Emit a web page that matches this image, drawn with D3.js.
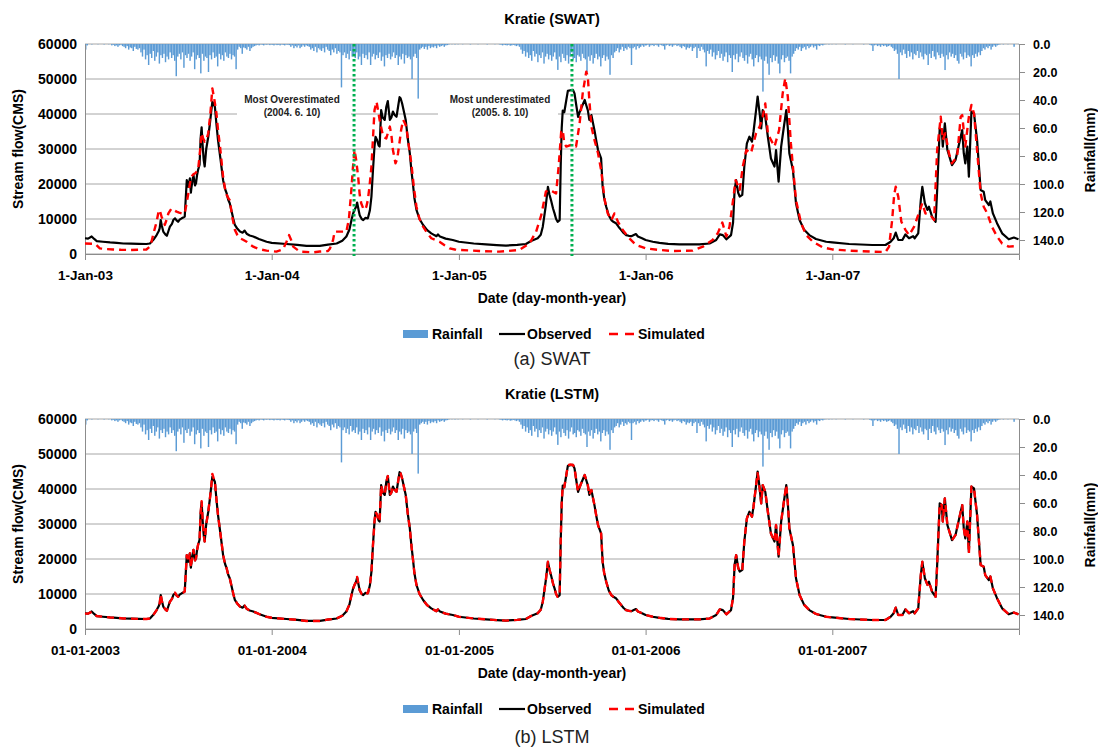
<!DOCTYPE html>
<html lang="en">
<head>
<meta charset="utf-8">
<title>Kratie stream flow: SWAT and LSTM</title>
<script src="https://d3js.org/d3.v7.min.js"></script>
<style>
  body { margin: 0; background: #fff; }
  svg text { font-family: "Liberation Sans", Arial, sans-serif; }
</style>
</head>
<body>
<script>
// all series use [day, value], day = days since 1 Jan 2003
var observed = [
  [0,4500],[6,4400],[13,5000],[18,4300],[23,3700],[35,3500],[49,3300],[62,3200],[75,3000],[90,2950],[105,2900],[120,2850],
  [127,3000],[130,3500],[135,4300],[140,5400],[144,6500],[146,7300],[148,9700],[150,8200],[153,6400],[157,5600],[160,5200],
  [163,6500],[166,7800],[170,8600],[173,9800],[176,10200],[179,9600],[182,9200],[185,9800],[189,10200],[192,10400],[195,10700],
  [197,16000],[199,21100],[202,19200],[205,21600],[207,17500],[208,18800],[210,21000],[212,22600],[215,19600],[217,20200],
  [219,22500],[221,24000],[224,25500],[226,33000],[228,36200],[230,31000],[232,27000],[234,25000],[237,30000],[241,33500],
  [244,37000],[247,41000],[249,43500],[251,43000],[254,42000],[257,37000],[260,32600],[265,27000],[270,21100],[274,18500],
  [277,17300],[280,15500],[283,14500],[286,12600],[290,10000],[293,8300],[298,7200],[303,6400],[308,6100],[312,6700],
  [316,5800],[322,5300],[329,5000],[340,4300],[355,3500],
  [365,3200],[394,2850],[415,2600],[433,2300],[459,2300],[475,2700],[492,3000],[503,3800],[511,5000],[517,7000],[521,9700],
  [524,11500],[527,12600],[530,13500],[532,14700],[535,12500],[537,11100],[541,10000],[544,9700],[548,10300],[553,10200],
  [557,12500],[560,16400],[563,24000],[566,30700],[568,33500],[571,32600],[574,31000],[576,30700],[579,41100],[582,39000],
  [586,38300],[589,42000],[592,43700],[594,41000],[596,38300],[599,39000],[602,40700],[605,39800],[609,39200],[612,42000],
  [615,44800],[617,44500],[620,43000],[623,41000],[627,38300],[631,33000],[635,28800],[638,24000],[641,20200],[644,16000],
  [648,12600],[654,10000],[661,8300],[669,6800],[677,5900],[683,5400],[687,5100],[690,5600],[694,5000],[705,4400],[719,4000],
  [731,3500],[760,3000],[784,2760],[805,2550],[823,2400],[845,2600],[862,2850],[872,3700],[885,4500],[891,5500],[895,7800],
  [901,14000],[905,19200],[908,17000],[911,15400],[915,13000],[918,11600],[921,10000],[924,9200],[928,9700],[930,25000],
  [932,36000],[934,41000],[937,40500],[941,44000],[944,46600],[949,46800],[954,46900],[957,45900],[961,42000],[964,39200],
  [967,40500],[970,41600],[974,43000],[977,44000],[980,42500],[983,41100],[986,38300],[990,39700],[993,37500],[996,35400],
  [1000,32000],[1003,29700],[1006,28500],[1009,27300],[1012,19200],[1015,16000],[1019,13500],[1024,11000],[1029,9700],
  [1033,9200],[1038,8800],[1043,7800],[1048,6900],[1053,6000],[1058,5400],[1063,5200],[1068,5100],[1074,5500],[1077,5700],
  [1081,5000],[1089,4500],
  [1096,4000],[1110,3500],[1123,3200],[1140,2900],[1162,2760],[1180,2750],[1201,2760],[1221,3000],[1234,4000],[1241,5600],
  [1247,5400],[1254,4200],[1263,5400],[1267,9000],[1270,18300],[1273,21100],[1277,17500],[1280,16400],[1285,16900],
  [1289,25000],[1294,31600],[1299,33500],[1304,32100],[1307,35000],[1312,41100],[1315,45000],[1319,40200],[1322,35900],
  [1325,41100],[1330,39200],[1335,33500],[1341,27300],[1348,25000],[1351,29700],[1356,20700],[1361,30700],[1366,36000],
  [1371,41100],[1374,36000],[1377,28800],[1384,24000],[1390,14500],[1397,9700],[1406,6900],[1416,5400],[1429,4300],[1449,3500],
  [1461,3300],[1494,2850],[1539,2570],[1565,2570],[1575,3500],[1581,4500],[1585,6100],[1590,4000],[1598,4000],[1604,5600],
  [1611,4500],[1619,5100],[1622,4500],[1629,5900],[1634,15400],[1637,19200],[1642,14500],[1647,12600],[1650,13500],
  [1656,10700],[1663,9200],[1666,18300],[1671,35900],[1675,35400],[1677,30700],[1681,37300],[1686,29700],[1695,25400],
  [1702,26900],[1712,33500],[1715,35400],[1718,28800],[1721,25900],[1725,30700],[1728,22100],[1733,40700],[1738,40200],
  [1744,32600],[1751,18300],[1757,17800],[1760,15400],[1767,14000],[1770,15000],[1775,11600],[1783,8800],[1793,5900],
  [1806,4200],[1816,4700],[1825,4200]
];

var swatSimulated = [
  [0,3000],[20,2900],[29,1600],[40,1400],[55,1300],[70,1200],[88,1150],[105,1200],[120,1300],[126,2000],[130,3500],
  [135,6500],[140,9200],[143,11500],[146,12600],[150,10500],[153,9700],[156,8300],[160,10000],[163,11600],[169,13000],
  [174,12500],[179,12100],[184,11800],[189,11600],[195,11600],[198,14000],[202,17300],[205,20000],[208,22100],[212,22800],
  [215,23000],[218,23500],[221,24000],[224,28000],[228,34500],[231,33000],[234,32100],[238,33000],[241,34500],[245,40000],
  [249,47300],[253,44000],[257,40200],[260,35500],[264,30700],[270,22000],[274,18500],[277,16900],[280,16000],[283,15400],
  [288,10500],[293,6900],[298,5400],[303,4500],[310,4000],[316,3500],[322,2800],[329,2100],[340,1400],[355,950],
  [365,800],[374,670],[387,1300],[394,3500],[399,5400],[403,4000],[407,2100],[420,670],[446,480],[459,700],[475,860],
  [479,1600],[485,4000],[488,6400],[498,6400],[511,6400],[516,10000],[521,18800],[524,25000],[527,29700],[530,27000],
  [534,22100],[537,17000],[540,14500],[544,13000],[547,12600],[550,13500],[553,15400],[556,19000],[560,25000],[563,33000],
  [566,41100],[570,43500],[573,41000],[576,38300],[580,35500],[583,33500],[589,33000],[592,34500],[596,36400],[599,34000],
  [602,29700],[605,27500],[607,25900],[610,27000],[612,28800],[615,32000],[618,35400],[622,38300],[625,37500],[628,36400],
  [633,31000],[638,25900],[643,19000],[648,13500],[654,10000],[661,7800],[669,6000],[677,4500],[685,4000],[693,3500],
  [703,2500],[713,1600],[723,1300],
  [732,1150],[771,860],[810,670],[849,1150],[869,3000],[882,6400],[892,11100],[901,17800],[908,18300],[915,17800],
  [921,17300],[926,25000],[931,35000],[934,35400],[937,31600],[941,30700],[951,31200],[960,30700],[967,37300],[973,45900],
  [980,52100],[983,50700],[986,44000],[990,36400],[996,32600],[1003,28800],[1009,24000],[1016,15400],[1022,11600],
  [1029,9700],[1035,11600],[1042,9200],[1051,6900],[1064,4500],[1077,2600],
  [1096,1600],[1123,1150],[1149,860],[1188,950],[1208,2100],[1227,4000],[1237,5900],[1246,9000],[1254,5000],[1260,7800],
  [1267,15400],[1272,21100],[1280,18300],[1286,25000],[1293,29700],[1302,28800],[1312,34500],[1319,36400],[1325,39200],
  [1330,43000],[1335,34500],[1341,32600],[1348,30700],[1357,35400],[1364,45900],[1369,50200],[1374,45000],[1380,31600],
  [1384,25000],[1390,15400],[1400,8800],[1410,5400],[1423,3500],[1442,1900],
  [1461,1300],[1494,950],[1539,670],[1565,570],[1572,2100],[1578,9700],[1582,17000],[1585,19200],[1590,16400],[1596,9200],
  [1604,6900],[1611,5400],[1621,7800],[1630,11600],[1637,14500],[1643,11600],[1653,11100],[1660,9700],[1666,29700],
  [1673,39200],[1677,32600],[1682,34500],[1689,28800],[1695,25900],[1705,27800],[1712,39200],[1715,39700],[1721,30700],
  [1728,39200],[1733,42600],[1738,40200],[1744,29700],[1751,17300],[1757,13500],[1764,11600],[1773,7800],[1783,5000],
  [1793,3000],[1806,2100],[1825,2300]
];

// LSTM output sits almost exactly on the observed curve
var lstmSimulated = [
  [0,4400],[6,4400],[13,4900],[18,4300],[23,3700],[35,3500],[49,3300],[62,3200],[75,3000],[90,2950],[105,2900],[120,2850],
  [127,3000],[130,3500],[135,4300],[140,5400],[144,6500],[146,7300],[148,9900],[150,8200],[153,6400],[157,5600],[160,5200],
  [163,6500],[166,7800],[170,8600],[173,9800],[176,10400],[179,9600],[182,9200],[185,9800],[189,10200],[192,10400],[195,10700],
  [197,16000],[199,21100],[202,19200],[205,21600],[207,17500],[208,18800],[210,21000],[212,22600],[215,19600],[217,20200],
  [219,22500],[221,24000],[224,25500],[226,33000],[228,36500],[230,31000],[232,27000],[234,25000],[237,30000],[241,33500],
  [244,37000],[247,41000],[249,44300],[251,43300],[254,42000],[257,37000],[260,32600],[265,27000],[270,21100],[274,18500],
  [277,17300],[280,15500],[283,14500],[286,12600],[290,10000],[293,8300],[298,7200],[303,6400],[308,6100],[312,6700],
  [316,5800],[322,5300],[329,5000],[340,4300],[355,3500],
  [365,3200],[394,2850],[415,2600],[433,2300],[459,2300],[475,2700],[492,3000],[503,3800],[511,5000],[517,7000],[521,9700],
  [524,11500],[527,12600],[530,13500],[532,14900],[535,12500],[537,11100],[541,10000],[544,9700],[548,10300],[553,10200],
  [557,12500],[560,16400],[563,24000],[566,30700],[568,33500],[571,32600],[574,31000],[576,30700],[579,41100],[582,39000],
  [586,38300],[589,42000],[592,43700],[594,41000],[596,38300],[599,39000],[602,40700],[605,39800],[609,39200],[612,42000],
  [615,44800],[617,44500],[620,43000],[623,41000],[627,38300],[631,33000],[635,28800],[638,24000],[641,20200],[644,16000],
  [648,12600],[654,10000],[661,8300],[669,6800],[677,5900],[683,5400],[687,5100],[690,5600],[694,5000],[705,4400],[719,4000],
  [731,3500],[760,3000],[784,2760],[805,2550],[823,2400],[845,2600],[862,2850],[872,3700],[885,4500],[891,5500],[895,7800],
  [901,14000],[905,19200],[908,17000],[911,15400],[915,13000],[918,11600],[921,10000],[924,9200],[928,9700],[930,25000],
  [932,36000],[934,41000],[937,40500],[941,44000],[944,46800],[949,47000],[954,46900],[957,45900],[961,42000],[964,39200],
  [967,40500],[970,41600],[974,43000],[977,44000],[980,42500],[983,41100],[986,38300],[990,39700],[993,37500],[996,35400],
  [1000,32000],[1003,29700],[1006,28500],[1009,27300],[1012,19200],[1015,16000],[1019,13500],[1024,11000],[1029,9700],
  [1033,9200],[1038,8800],[1043,7800],[1048,6900],[1053,6000],[1058,5400],[1063,5200],[1068,5100],[1074,5500],[1077,5700],
  [1081,5000],[1089,4500],
  [1096,4000],[1110,3500],[1123,3200],[1140,2900],[1162,2760],[1180,2750],[1201,2760],[1221,3000],[1234,4000],[1241,5600],
  [1247,5400],[1254,4200],[1263,5400],[1267,9000],[1270,18300],[1273,21100],[1277,17500],[1280,16400],[1285,16900],
  [1289,25000],[1294,31600],[1299,33500],[1304,32100],[1307,35000],[1312,41100],[1315,44500],[1319,40200],[1322,35900],
  [1325,41100],[1330,39200],[1335,33500],[1341,27300],[1348,25000],[1351,29700],[1356,20700],[1361,30700],[1366,36000],
  [1371,41100],[1374,36000],[1377,28800],[1384,24000],[1390,14500],[1397,9700],[1406,6900],[1416,5400],[1429,4300],[1449,3500],
  [1461,3300],[1494,2850],[1539,2570],[1565,2570],[1575,3500],[1581,4500],[1585,6100],[1590,4000],[1598,4000],[1604,5600],
  [1611,4500],[1619,5100],[1622,4500],[1629,5900],[1634,15400],[1637,19200],[1642,14500],[1647,12600],[1650,13500],
  [1656,10700],[1663,9200],[1666,18300],[1671,35900],[1675,35400],[1677,30700],[1681,37300],[1686,29700],[1695,25400],
  [1702,26900],[1712,33500],[1715,35400],[1718,28800],[1721,25900],[1725,30700],[1728,21500],[1733,40700],[1738,40200],
  [1744,32600],[1751,18300],[1757,17800],[1760,15400],[1767,14000],[1770,15000],[1775,11600],[1783,8800],[1793,5900],
  [1806,4200],[1816,4700],[1825,4200]
];

// daily rainfall read in 3-day steps (mm), 122 steps per year
var rain2003 = [4,1, 0,0,0.3,0,0,0,0.2,0,0,0,0.3,0,0,0.2,0, 1,0.5,1.5,1,2,1,0.5,1.5,
  2,3,1.5,4,2.5,3,5,2,3.5,4,3, 6,9,4,11,8,15,7,10,5,12,9,6,14,8,10,7,13,9,11,6,10,8,12, 23,
  9,7,11,6,17,8,10,7,12,9,6,18,11,8,10,21,7,12,9,10,20,8,11,6,10,9,16,7,11,8,12,6,9,10,7,11,8,9,18,
  4,2,3,7,2.5,3,4,2,5,3,2,1.5, 1,0.5,1,0.3,0.5,1,0.3,0.5,0.2,0.8,0.3];
var rain2004 = [0.5,1,0.3,0.8,0.5,1,0.3,0.6,1,0.4,0.5,0.8, 2,1,3,1.5,2.5,1,3,2,1,2, 1,1.5,
  2,4,3,5,2,6,3,4,5,3,6,2,4,5, 8, 4,6,3,7,5,6, 31, 8,6,10,7,11,5,9,8,10,6,11,9, 15, 7,10,8,11,6, 15,
  9,7,11,8,10,6,12,9, 16, 8,10,7,11,9,6,10,8, 15, 9,11,7, 14, 8,10,9,11, 25, 9,7,10, 39,
  4,3,2,3.5,2,4,1.5,3,2,2.5,1.5,3,1,2,1.5,1,2,1,0.8, 0.3,0,0.2,0,0.3,0,0.2];
var rain2005 = [0,0,0.2,0,0,0,0,0.3,0,0,0,0,0.2,0,0,0,0,0,0.3,0,0,0,0,0.2,0,0,0.3,
  0.5,1,0.5,0.8,1,0.5,1.2,1,0.6,1,1.5,1,2, 4,7,5,9,6,10,8,12,5,9,7,13,8,10,6,14,9,7,11,
  8,12,9,6,11, 18.5, 9,13,7,10,12,8,14,9,6,11,10,13,8,9,12,7,10,11, 20, 9,12,8,14,10,7,11,9, 16,
  10,8,12,9,11, 22, 8,10,6,5,3,6,4,2,5,3,4,2,3, 15, 3,2,4,1.5,3,2,1,2,1];
var rain2006 = [1,0.5,2,1,0.8,1.5,0.5,1,2,0.5,1,1.5, 4, 1,0.5,1.5,1,2,1,0.5,1.5,1,2,3,1.5,2,4,2.5,3,2,5,3,2,
  10, 3,5,2,4,6, 16, 5,7,4,9,6,11,8,5,10,7,12,9,6,13,8,10, 20, 8,11,7,13,9,6,10,12,8,14,9,7,11, 16,
  10,8,13,9,11, 34, 12,9,14, 22, 10,13,8,12,9,14, 21, 11,8,13,10,9,12, 21,
  9,7,5,3,4,2,5,3,2,4,1.5,3,2,1,2.5,1.5, 4, 1,1.5,0.5,1,0.3,0.2,0,0.3,0,0.2];
var rain2007 = [0,0,0.2,0,0,0,0,0,0.3,0,0,0,0,0.2,0,0,0,0,0,0,0.3,0,0,0, 0.5,1, 5,
  1,0.5,1.5,1,2,0.8,1.5,1,2,1.5,1,2, 3,5,4,7, 25, 6,8,4,7,10,5,9,6,11,7,8,5,10,6,9,11,7,8, 15,
  7,10,5,9,11,6,8,10,7,9, 18.6, 8,11,6,9,7,10,8,12, 14, 7,9,11,6,10,8,9, 16, 8,10,7,9,6,8,5,
  3,4,2,3,1.5,4,2,1,2,1, 0.5,0.2,0,0.3,0,0,0.2,0,0,0,2,0,0,0.2];

var rainYears = [2003, 2004, 2005, 2006, 2007];
var flowTicks = [0, 10000, 20000, 30000, 40000, 50000, 60000];
var rainTicks = [0, 20, 40, 60, 80, 100, 120, 140];
var markedDates = ["2004-06-10", "2005-08-10"];

var W = 1098, H = 747;
var left = 85, right = 1019, plotH = 210;
var start = new Date(2003, 0, 1);
function toDate(d) { return d3.timeDay.offset(start, d); }

var rainSeries = [rain2003, rain2004, rain2005, rain2006, rain2007].flatMap(function(arr, k) {
  var y0 = new Date(rainYears[k], 0, 1);
  return arr.map(function(v, i) { return { date: d3.timeDay.offset(y0, 3 * i), v: v }; });
});

var svg = d3.select("body").append("svg").attr("width", W).attr("height", H);

var x = d3.scaleTime().domain([start, new Date(2008, 0, 1)]).range([left, right]);
var yearTickDates = rainYears.map(function(y) { return new Date(y, 0, 1); });

function drawPanel(o) {
  var top = o.top, bottom = top + plotH;
  var y = d3.scaleLinear().domain([0, 60000]).range([bottom, top]);
  var yr = d3.scaleLinear().domain([0, 150]).range([top, bottom]);
  var g = svg.append("g");

  g.append("text").attr("x", 552).attr("y", top - 20).attr("text-anchor", "middle")
    .attr("font-size", 14.5).attr("font-weight", "bold").text(o.title);

  // gridlines
  g.selectAll(".grid").data(flowTicks).join("line")
    .attr("x1", left).attr("x2", right)
    .attr("y1", function(d) { return y(d); }).attr("y2", function(d) { return y(d); })
    .attr("stroke", "#a6a6a6").attr("stroke-width", 1);

  // white boxes behind the notes break the gridline
  if (o.notes) {
    g.selectAll(".notebox").data(o.notes).join("rect")
      .attr("x", function(d) { return d.x0; }).attr("width", function(d) { return d.x1 - d.x0; })
      .attr("y", top + 46).attr("height", 30).attr("fill", "#fff");
  }

  // rainfall hanging from the top
  g.selectAll(".rain").data(rainSeries.filter(function(d) { return d.v > 0; })).join("rect")
    .attr("x", function(d) { return x(d.date); })
    .attr("width", 1.45)
    .attr("y", top)
    .attr("height", function(d) { return yr(d.v) - top; })
    .attr("fill", "#5b9bd5");

  // axes
  var ax = g.append("g").attr("transform", "translate(" + left + ",0)")
    .call(d3.axisLeft(y).tickValues(flowTicks).tickFormat(d3.format("d"))
      .tickSize(0).tickSizeOuter(0).tickPadding(8));
  var bx = g.append("g").attr("transform", "translate(0," + bottom + ")")
    .call(d3.axisBottom(x).tickValues(yearTickDates).tickFormat(d3.timeFormat(o.dateFormat))
      .tickSize(6).tickSizeOuter(6).tickPadding(10));
  var rx = g.append("g").attr("transform", "translate(" + right + ",0)")
    .call(d3.axisRight(yr).tickValues(rainTicks).tickFormat(d3.format(".1f"))
      .tickSize(6).tickSizeOuter(0).tickPadding(8));
  [ax, bx, rx].forEach(function(a) {
    a.attr("font-family", null).attr("font-weight", "bold").attr("font-size", 14);
    a.selectAll("path, line").attr("stroke", "#8c8c8c");
    a.selectAll("text").attr("fill", "#000");
  });
  rx.attr("font-size", 12.5);
  bx.attr("font-size", 13.5);

  // notes
  if (o.notes) {
    o.notes.forEach(function(n) {
      g.append("text").attr("x", n.tx).attr("y", top + 59).attr("text-anchor", "middle")
        .attr("font-size", 10).attr("font-weight", "bold").attr("fill", "#222").text(n.line1);
      g.append("text").attr("x", n.tx).attr("y", top + 72).attr("text-anchor", "middle")
        .attr("font-size", 10).attr("font-weight", "bold").attr("fill", "#222").text(n.line2);
    });
  }

  var line = d3.line()
    .x(function(d) { return x(toDate(d[0])); })
    .y(function(d) { return y(d[1]); });

  g.append("path").datum(observed).attr("d", line)
    .attr("fill", "none").attr("stroke", "#000").attr("stroke-width", 2.2).attr("stroke-linejoin", "round");
  g.append("path").datum(o.simulated).attr("d", line)
    .attr("fill", "none").attr("stroke", "#ff0000").attr("stroke-width", 2.4)
    .attr("stroke-dasharray", "7,5").attr("stroke-linejoin", "round");

  // marked dates
  if (o.marks) {
    g.selectAll(".mark").data(markedDates).join("line")
      .attr("x1", function(d) { return x(d3.timeParse("%Y-%m-%d")(d)); })
      .attr("x2", function(d) { return x(d3.timeParse("%Y-%m-%d")(d)); })
      .attr("y1", top).attr("y2", bottom + 2)
      .attr("stroke", "#00b050").attr("stroke-width", 3).attr("stroke-dasharray", "2.5,2.5");
  }

  // axis titles
  g.append("text").attr("transform", "translate(23," + (top + 105) + ") rotate(-90)")
    .attr("text-anchor", "middle").attr("font-size", 14).attr("font-weight", "bold").text("Stream flow(CMS)");
  g.append("text").attr("transform", "translate(1095," + (top + 106) + ") rotate(-90)")
    .attr("text-anchor", "middle").attr("font-size", 14).attr("font-weight", "bold").text("Rainfall(mm)");
  g.append("text").attr("x", 552).attr("y", top + 259).attr("text-anchor", "middle")
    .attr("font-size", 14).attr("font-weight", "bold").text("Date (day-month-year)");

  // legend
  var ly = top + 290;
  g.append("rect").attr("x", 403).attr("y", ly - 4).attr("width", 25).attr("height", 8).attr("fill", "#5b9bd5");
  g.append("text").attr("x", 432).attr("y", ly + 5).attr("font-size", 14).attr("font-weight", "bold").text("Rainfall");
  g.append("line").attr("x1", 499).attr("x2", 525).attr("y1", ly).attr("y2", ly)
    .attr("stroke", "#000").attr("stroke-width", 2.2);
  g.append("text").attr("x", 527).attr("y", ly + 5).attr("font-size", 14).attr("font-weight", "bold").text("Observed");
  g.append("line").attr("x1", 609).attr("x2", 635).attr("y1", ly).attr("y2", ly)
    .attr("stroke", "#ff0000").attr("stroke-width", 2.4).attr("stroke-dasharray", "9,7");
  g.append("text").attr("x", 638).attr("y", ly + 5).attr("font-size", 14).attr("font-weight", "bold").text("Simulated");

  svg.append("text").attr("x", 552).attr("y", o.captionY).attr("text-anchor", "middle")
    .attr("font-family", "'Noto Sans', sans-serif").attr("font-size", 18).attr("fill", "#222").text(o.caption);
}

drawPanel({
  top: 44, title: "Kratie (SWAT)", dateFormat: "%-d-%b-%y", simulated: swatSimulated,
  caption: "(a) SWAT", captionY: 365, marks: true,
  notes: [
    { x0: 237, x1: 351, tx: 292, line1: "Most Overestimated", line2: "(2004.  6. 10)" },
    { x0: 438, x1: 558, tx: 500, line1: "Most underestimated", line2: "(2005.  8. 10)" }
  ]
});
drawPanel({
  top: 419, title: "Kratie (LSTM)", dateFormat: "%d-%m-%Y", simulated: lstmSimulated,
  caption: "(b) LSTM", captionY: 743, marks: false
});
</script>
</body>
</html>
